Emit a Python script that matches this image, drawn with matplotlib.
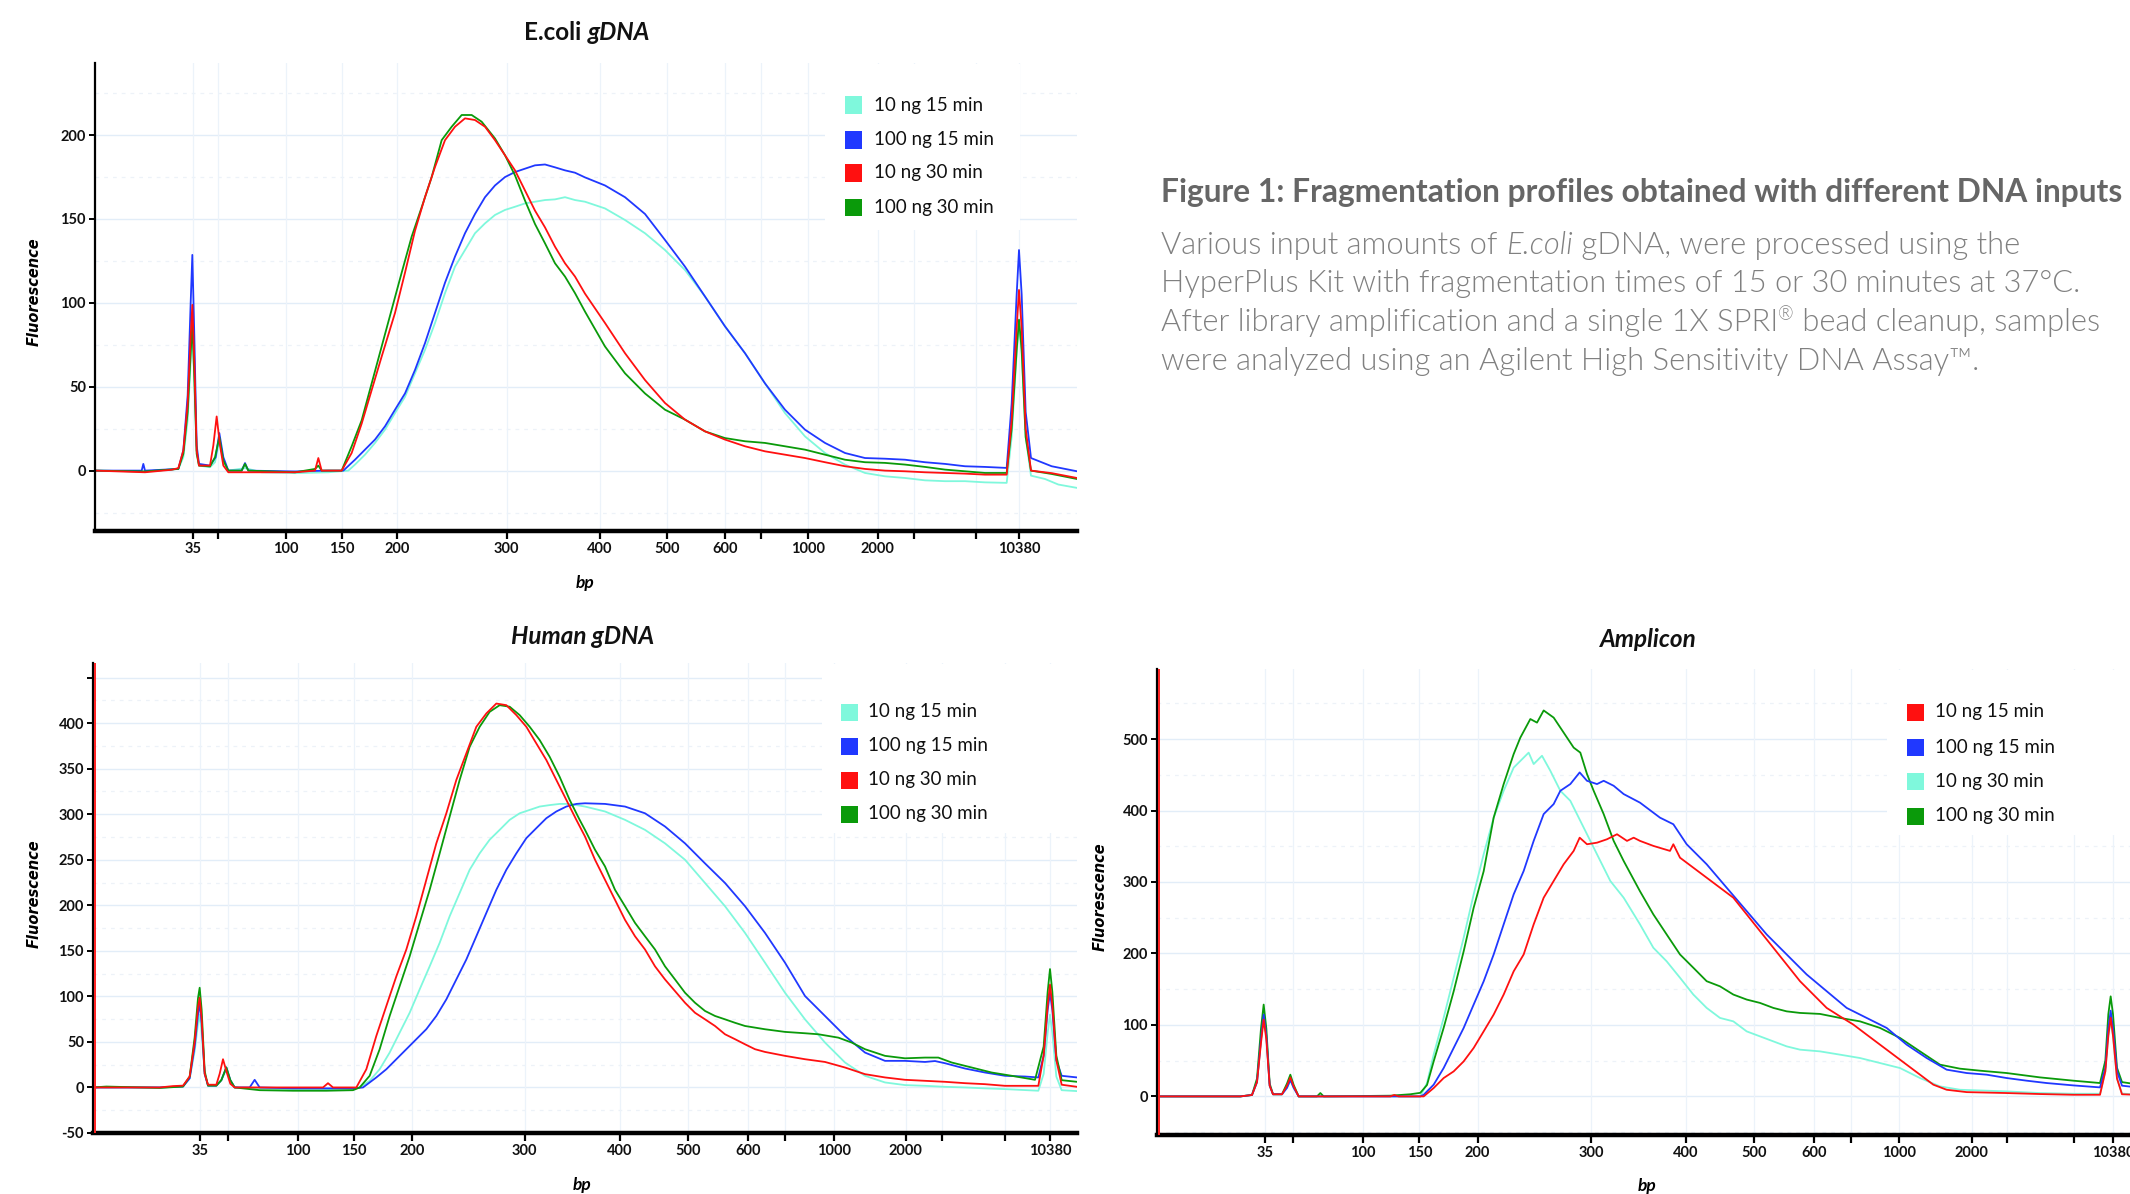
import matplotlib
matplotlib.use("Agg")
import matplotlib.pyplot as plt
from matplotlib.patches import Rectangle
from matplotlib import font_manager as fm

# ------------------------------------------------------------------ data
# x positions are migration positions along each electropherogram axis
X_TICK_LABELS = ["35", "", "100", "150", "200", "300", "400", "500", "600", "",
                 "1000", "2000", "", "", "10380"]
ECOLI_XTICKS = [293, 370, 573, 741, 906, 1235, 1515, 1715, 1890, 1997, 2138, 2348, 2458, 2643, 2772]
HUMAN_XTICKS = [322, 405, 614, 783, 958, 1295, 1581, 1786, 1966, 2076, 2222, 2438, 2546, 2736, 2871]
AMPLICON_XTICKS = [325, 407, 618, 787, 962, 1302, 1586, 1791, 1971, 2081, 2227, 2444, 2549, 2751, 2869]

ECOLI_YTICKS = [0, 50, 100, 150, 200]
ECOLI_YLABELS = ["0", "50", "100", "150", "200"]
HUMAN_YTICKS = [-50, 0, 50, 100, 150, 200, 250, 300, 350, 400, 450]
HUMAN_YLABELS = ["-50", "0", "50", "100", "150", "200", "250", "300", "350", "400", ""]
AMPLICON_YTICKS = [0, 100, 200, 300, 400, 500]
AMPLICON_YLABELS = ["0", "100", "200", "300", "400", "500"]

LABELS_GDNA = ["10 ng 15 min", "100 ng 15 min", "10 ng 30 min", "100 ng 30 min"]
LABELS_AMPLICON = ["10 ng 15 min", "100 ng 15 min", "10 ng 30 min", "100 ng 30 min"]

# ---- E.coli gDNA traces (position, fluorescence)
ecoli_10ng_15 = [(0, 0), (150, -0.5), (250, 1), (265, 8), (278, 30), (287, 65), (292, 85), (298, 55), (305, 12),
    (312, 3), (345, 2), (360, 5), (373, 18), (385, 6), (400, 0), (450, 1.5), (500, -1), (600, -1.5), (700, -1),
    (760, 0), (780, 3.6), (810, 9.5), (840, 16.5), (870, 24.4), (900, 34.3), (930, 44), (960, 58), (990, 72),
    (1020, 88), (1050, 105.8), (1080, 121.6), (1110, 131.5), (1140, 141.5), (1170, 147.4), (1200, 152.4),
    (1230, 155.4), (1260, 157.3), (1290, 159.3), (1320, 160.3), (1350, 161.3), (1380, 161.7), (1410, 163),
    (1440, 161.3), (1470, 160.3), (1530, 156.3), (1590, 149.4), (1650, 141.5), (1710, 131.5), (1770, 119.6),
    (1830, 103.8), (1890, 86), (1950, 70), (2010, 52), (2070, 34.3), (2130, 20.4), (2190, 10.5), (2250, 3.6),
    (2310, -1.4), (2370, -3.4), (2430, -4.4), (2490, -5.8), (2550, -6.3), (2610, -6.3), (2670, -7), (2735, -7.3),
    (2750, 20), (2765, 70), (2772, 88), (2780, 70), (2792, 20), (2808, -3), (2850, -5), (2890, -8.3), (2946, -10.3)]
ecoli_100ng_15 = [(0, 0), (140, 0), (145, 4), (150, 0), (250, 1), (265, 12), (278, 45), (287, 100), (292, 128.6),
    (298, 80), (305, 15), (312, 4), (345, 3), (362, 8), (373, 22.4), (385, 8), (400, 0), (440, 0), (450, 4.5),
    (460, 0), (600, -0.5), (700, 0), (745, 0), (780, 6.5), (810, 12.5), (840, 18.5), (870, 26.4), (900, 36.3),
    (930, 46), (960, 60), (990, 76), (1020, 94), (1050, 112), (1080, 127.6), (1110, 141.5), (1140, 153),
    (1170, 163), (1200, 170), (1230, 175), (1260, 178), (1290, 180), (1320, 182), (1350, 182.5), (1380, 180.8),
    (1410, 179), (1440, 177.6), (1470, 174.8), (1530, 170), (1590, 163), (1650, 153), (1710, 137.5),
    (1770, 121.6), (1830, 103.8), (1890, 86), (1950, 70), (2010, 52), (2070, 36.3), (2130, 24.4), (2190, 16.5),
    (2250, 10.5), (2310, 7.5), (2370, 7.1), (2430, 6.5), (2490, 5), (2550, 4), (2610, 2.6), (2670, 2.2),
    (2735, 1.6), (2750, 40), (2765, 105), (2772, 131.5), (2780, 105), (2792, 35), (2808, 7.5), (2870, 2.6),
    (2946, -0.4)]
ecoli_10ng_30 = [(0, 0), (150, -1), (230, 0.5), (250, 1.5), (265, 12), (278, 40), (287, 80), (292, 98.8),
    (298, 65), (305, 12), (312, 3), (345, 3), (355, 15), (365, 32.3), (375, 15), (385, 3), (400, -1), (500, -1),
    (600, -1), (660, 0), (670, 7.5), (680, 0), (740, 0), (770, 10.5), (800, 28), (830, 48), (860, 68), (900, 94),
    (930, 118), (960, 143), (990, 163), (1020, 181), (1050, 197), (1080, 205), (1110, 210), (1140, 209),
    (1170, 205), (1200, 197), (1230, 188), (1260, 179), (1290, 167), (1320, 155), (1350, 145), (1380, 133.5),
    (1410, 123.6), (1440, 115.7), (1470, 105.5), (1530, 88), (1590, 70), (1650, 54), (1710, 40.3), (1770, 30.4),
    (1830, 23.4), (1890, 18.5), (1950, 14.5), (2010, 11.5), (2070, 9.5), (2130, 7.5), (2190, 5), (2250, 2.6),
    (2310, 1), (2370, 0), (2430, -0.4), (2490, -1), (2550, -1.4), (2610, -1.8), (2670, -2.4), (2735, -2.4),
    (2750, 30), (2765, 85), (2772, 107.7), (2780, 85), (2792, 25), (2808, 0), (2870, -1.5), (2946, -4.4)]
ecoli_100ng_30 = [(0, 0), (150, -0.5), (250, 1), (265, 10), (278, 35), (287, 70), (292, 88), (298, 55), (305, 10),
    (312, 3), (345, 2.5), (360, 8), (373, 20), (385, 6), (400, 0), (440, 0), (450, 4), (460, 0), (600, -1),
    (660, 1), (670, 3), (680, 0), (740, 0), (770, 14.5), (800, 30), (830, 52), (860, 74), (890, 96), (920, 118),
    (950, 139.5), (980, 157), (1010, 175), (1040, 197), (1070, 205), (1100, 212), (1130, 212), (1160, 208),
    (1200, 198), (1230, 188), (1260, 176), (1290, 161), (1320, 147), (1350, 135.5), (1380, 123.6),
    (1410, 115.7), (1440, 105.8), (1470, 94.8), (1530, 74), (1590, 58), (1650, 46), (1710, 36.3), (1770, 30.4),
    (1830, 23.4), (1890, 19.4), (1950, 17.5), (2010, 16.5), (2070, 14.5), (2130, 12.5), (2190, 9.5), (2250, 6.5),
    (2310, 5), (2370, 4.6), (2430, 3.6), (2490, 2.2), (2550, 0.6), (2610, -0.4), (2670, -1.4), (2735, -1.4),
    (2750, 25), (2765, 72), (2772, 90), (2780, 72), (2792, 20), (2808, 0), (2870, -2), (2946, -5)]

# ---- Human gDNA traces
human_10ng_15 = [(0, 0), (200, 0), (270, 1), (290, 10), (305, 40), (315, 70), (320, 80), (326, 60), (335, 15),
    (345, 2), (370, 2), (385, 8), (400, 20), (412, 8), (425, 0), (500, -1), (600, -2.5), (700, -2.5), (780, -2),
    (800, 0), (830, 7.3), (860, 20), (890, 38.3), (920, 60.2), (950, 82), (980, 107.7), (1010, 133),
    (1040, 158.8), (1070, 188), (1100, 213.5), (1130, 239), (1160, 257), (1190, 272), (1220, 282.8),
    (1250, 293.8), (1280, 301), (1310, 304.7), (1340, 308.4), (1370, 310), (1400, 311.3), (1430, 311.3),
    (1476, 308.4), (1536, 303), (1596, 293.8), (1656, 282.8), (1716, 268), (1776, 250), (1836, 224.5),
    (1896, 199), (1956, 169.7), (2016, 137), (2076, 104), (2136, 74.8), (2196, 49.3), (2256, 27.4),
    (2316, 12.8), (2376, 5.5), (2436, 2.6), (2496, 1.8), (2556, 0.7), (2616, 0), (2676, -1), (2736, -1.8),
    (2836, -3.6), (2852, 15), (2864, 60), (2871, 80), (2878, 60), (2890, 12), (2906, -3), (2952, -4)]
human_100ng_15 = [(0, 0), (200, 0), (270, 1), (290, 10), (305, 45), (315, 80), (320, 93), (326, 70), (335, 15),
    (345, 2), (370, 2), (385, 8), (400, 22), (412, 8), (425, 0), (470, 0), (485, 8.4), (500, 0), (600, -1),
    (700, -1), (780, -1), (810, 0), (850, 11), (880, 20), (910, 31), (940, 42), (970, 53), (1000, 64),
    (1030, 78.5), (1060, 96.7), (1090, 118.6), (1120, 140.5), (1150, 166), (1180, 191.6), (1210, 217),
    (1240, 239), (1270, 257), (1300, 273.7), (1330, 284.7), (1360, 295.6), (1390, 303), (1420, 308.4),
    (1450, 311.3), (1476, 312), (1536, 311.3), (1596, 308.4), (1656, 301), (1716, 286.5), (1776, 268),
    (1836, 246), (1896, 224.5), (1956, 199), (2016, 169.7), (2076, 137), (2136, 100.4), (2196, 78.5),
    (2256, 56.6), (2316, 38.3), (2376, 29.2), (2436, 29.2), (2496, 28), (2526, 29), (2556, 26.6), (2616, 20.8),
    (2676, 16.4), (2736, 12.8), (2796, 12), (2836, 11), (2852, 35), (2864, 85), (2871, 104), (2878, 85),
    (2890, 30), (2906, 12.8), (2952, 11)]
human_10ng_30 = [(0, 0), (200, 0), (240, 1.5), (270, 2), (290, 12), (305, 50), (315, 88), (320, 98.5), (326, 75),
    (335, 15), (345, 3), (370, 3), (380, 15), (390, 31), (400, 18), (412, 4), (425, 0), (600, 0), (690, 0),
    (705, 4.7), (720, 0), (790, 0), (820, 20), (850, 56.6), (880, 89.4), (910, 122), (940, 151.5), (970, 188),
    (1000, 228), (1030, 268), (1060, 301), (1090, 337.6), (1120, 366.8), (1150, 396), (1180, 410.6),
    (1210, 421.5), (1240, 419.7), (1270, 408.8), (1300, 396), (1330, 377.7), (1360, 359.5), (1390, 337.6),
    (1420, 315.7), (1450, 293.8), (1476, 275.5), (1506, 250), (1536, 228), (1566, 206), (1596, 184),
    (1626, 166), (1656, 151.5), (1686, 133), (1716, 118.6), (1746, 105.8), (1776, 93), (1806, 82),
    (1836, 74.8), (1866, 67.5), (1896, 58.4), (1926, 53), (1956, 47.4), (1986, 42), (2016, 39), (2076, 34.7),
    (2136, 31), (2196, 28), (2256, 21.9), (2316, 14.6), (2376, 11), (2436, 8.4), (2496, 7.3), (2556, 6.2),
    (2616, 4.7), (2676, 3.6), (2736, 1.8), (2836, 1.8), (2852, 35), (2864, 90), (2871, 113), (2878, 90),
    (2890, 30), (2906, 3), (2952, 0.7)]
human_100ng_30 = [(0, 0), (40, 1), (200, -0.5), (270, 1), (290, 12), (305, 55), (315, 98), (320, 109.5),
    (326, 85), (335, 18), (345, 2), (370, 2), (385, 8), (400, 22), (412, 8), (425, 0), (500, -3), (600, -3.6),
    (700, -3.6), (780, -3), (800, 0), (830, 12.8), (860, 42), (890, 78.5), (920, 111.3), (950, 144),
    (980, 180.7), (1010, 217), (1040, 257), (1070, 297.4), (1100, 337.6), (1130, 374), (1160, 396),
    (1190, 412.4), (1220, 419.7), (1250, 418), (1280, 408.8), (1310, 396), (1340, 381.4), (1370, 363),
    (1400, 341), (1430, 315.7), (1460, 293.8), (1476, 282.8), (1506, 261), (1536, 242.7), (1566, 217),
    (1596, 199), (1626, 180.7), (1656, 166), (1686, 151.5), (1716, 133), (1746, 118.6), (1776, 104),
    (1806, 93), (1836, 84), (1866, 78.5), (1896, 74.8), (1926, 71), (1956, 67.5), (2016, 63.9), (2076, 61),
    (2136, 59.5), (2176, 58.4), (2236, 54.7), (2276, 49.3), (2316, 42), (2376, 34.7), (2436, 32),
    (2496, 32.8), (2536, 32.8), (2576, 27.4), (2636, 21.9), (2696, 16.4), (2756, 12.8), (2826, 8.4),
    (2852, 45), (2864, 105), (2871, 130), (2878, 105), (2890, 35), (2906, 8), (2952, 6.2)]

# ---- Amplicon traces
amp_10ng_15 = [(0, 0), (250, 0), (285, 2), (300, 20), (312, 75), (320, 107.5), (328, 80), (338, 15), (348, 3),
    (375, 3), (390, 15), (400, 26.6), (410, 14), (425, 0), (700, 0), (712, 2), (725, 0), (800, 0), (830, 11.7),
    (860, 25.7), (890, 35), (920, 49), (950, 67.8), (980, 91), (1010, 114.5), (1040, 142.5), (1070, 175),
    (1100, 198.6), (1130, 240.7), (1160, 278), (1190, 301.4), (1220, 324.8), (1250, 343.5), (1268, 362),
    (1290, 352.8), (1320, 355), (1350, 359.8), (1380, 366.8), (1410, 357.5), (1430, 362), (1449, 357.5),
    (1489, 350.5), (1539, 343.5), (1549, 352.8), (1569, 334), (1609, 320), (1649, 306), (1689, 292),
    (1729, 278), (1769, 254.7), (1809, 231.3), (1849, 208), (1889, 184.6), (1929, 161.2), (1969, 142.5),
    (2009, 123.8), (2049, 112), (2089, 100.5), (2129, 86.4), (2169, 72.4), (2209, 58.4), (2249, 44.4),
    (2289, 30.4), (2329, 16.4), (2369, 9.3), (2429, 6), (2549, 4.7), (2649, 3.3), (2749, 2.3), (2829, 2.3),
    (2845, 35), (2854, 85), (2861, 110), (2868, 85), (2880, 25), (2895, 3), (2952, 2)]
amp_100ng_15 = [(0, 0), (250, 0), (285, 2), (300, 20), (312, 80), (320, 114.5), (328, 85), (338, 15), (348, 3),
    (375, 3), (390, 12), (400, 23), (410, 12), (425, 0), (790, 0), (800, 2.3), (830, 16.4), (860, 39.7),
    (890, 67.8), (920, 95.8), (950, 128.5), (980, 161), (1010, 198.6), (1040, 240.7), (1070, 282.7),
    (1100, 315.4), (1130, 357.5), (1160, 395), (1190, 409), (1210, 427.6), (1240, 437), (1268, 453.3),
    (1290, 441.6), (1320, 437), (1340, 441.6), (1370, 434.6), (1400, 423), (1449, 411), (1509, 390),
    (1549, 380.8), (1589, 352.8), (1649, 324.8), (1709, 292), (1769, 259.3), (1829, 226.6), (1889, 198.6),
    (1949, 170.6), (2009, 147.2), (2069, 123.8), (2129, 109.8), (2189, 95.8), (2249, 72.4), (2309, 53.7),
    (2369, 37.4), (2429, 32.7), (2489, 30.4), (2549, 25.7), (2609, 22), (2669, 18.7), (2749, 15.4),
    (2829, 12.6), (2845, 40), (2854, 95), (2861, 120), (2868, 95), (2880, 35), (2895, 15), (2952, 12)]
amp_10ng_30 = [(0, 0), (250, 0), (285, 2), (300, 20), (312, 80), (320, 110), (328, 85), (338, 15), (348, 3),
    (375, 3), (390, 12), (400, 23), (410, 12), (425, 0), (790, 0), (810, 18.7), (830, 58.4), (860, 110),
    (890, 166), (920, 222), (950, 282.7), (980, 338.8), (1010, 390), (1040, 427.6), (1070, 460), (1100, 474),
    (1115, 481), (1130, 465), (1155, 476.6), (1180, 455.6), (1210, 427.6), (1240, 413.6), (1270, 385.5),
    (1300, 357.5), (1330, 329.4), (1360, 301.4), (1400, 278), (1449, 240.7), (1489, 208), (1529, 189),
    (1569, 166), (1609, 142.5), (1649, 123.8), (1689, 109.8), (1729, 105), (1769, 91), (1809, 84), (1849, 77),
    (1889, 70), (1929, 65.4), (1989, 63), (2049, 58.4), (2109, 53.7), (2169, 46.7), (2229, 39.7),
    (2289, 25.7), (2349, 14), (2409, 9.3), (2549, 7), (2649, 4.7), (2749, 3.7), (2829, 3.7), (2845, 35),
    (2854, 85), (2861, 105), (2868, 85), (2880, 25), (2895, 4), (2952, 2.3)]
amp_100ng_30 = [(0, 0), (250, 0), (285, 2), (300, 25), (312, 95), (320, 128.5), (328, 95), (338, 18), (348, 3),
    (375, 3), (390, 18), (400, 30.4), (410, 16), (425, 0), (480, 0), (490, 4.7), (500, 0), (700, 1), (760, 3),
    (790, 5), (810, 16), (830, 49), (860, 96), (890, 147), (920, 203), (950, 264), (980, 315), (1010, 390),
    (1040, 437), (1070, 479), (1090, 502), (1120, 528), (1140, 523), (1160, 540), (1190, 530), (1220, 509),
    (1250, 488), (1270, 481), (1290, 451), (1310, 427.6), (1340, 395), (1370, 357.5), (1400, 329.4),
    (1449, 287), (1489, 254.7), (1529, 226.6), (1569, 198.6), (1609, 180), (1649, 161.2), (1689, 154),
    (1729, 142.5), (1769, 135.5), (1809, 130.8), (1849, 123.8), (1889, 119), (1929, 116.8), (1989, 115.4),
    (2049, 109.8), (2109, 105), (2169, 95.8), (2229, 81.8), (2289, 63), (2349, 44.4), (2409, 38.8),
    (2469, 36), (2549, 32.7), (2649, 26.6), (2749, 22), (2829, 18.7), (2845, 50), (2854, 115), (2861, 140),
    (2868, 115), (2880, 40), (2895, 20), (2952, 16)]

# ------------------------------------------------------------------ style
CYAN, BLUE, RED, GREEN = "#7ff8dc", "#2038ff", "#ff1010", "#0a9a0a"
W, H = 2130, 1194
plt.rcParams["font.family"] = ["Lato", "DejaVu Sans"]


def find_font(stem):
    for f in fm.fontManager.ttflist:
        name = f.fname.replace("\\", "/").split("/")[-1]
        if name.rsplit(".", 1)[0].lower() == stem.lower():
            return f.fname
    return None


LIGHT_FILE = find_font("Lato-Light")
LIGHT_ITALIC_FILE = find_font("Lato-LightItalic")

fig = plt.figure(figsize=(W / 100, H / 100), dpi=100)
fig.patch.set_facecolor("white")
renderer = fig.canvas.get_renderer()


def fpos(px, py):
    return px / W, 1 - py / H


def make_axes(l, t, r, b):
    return fig.add_axes([l / W, 1 - b / H, (r - l) / W, (b - t) / H])


def style_axes(ax, xlim, ylim, xticks, yticks, ylabels, red_edge=False):
    ax.set_xlim(*xlim)
    ax.set_ylim(*ylim)
    ax.set_facecolor("white")
    for s in ("top", "right"):
        ax.spines[s].set_visible(False)
    ax.spines["left"].set_linewidth(1.6)
    ax.spines["bottom"].set_linewidth(3.2)
    ax.set_xticks(xticks)
    ax.set_xticklabels(X_TICK_LABELS)
    ax.set_yticks(yticks)
    ax.set_yticklabels(ylabels)
    ax.tick_params(axis="x", length=6, width=1.6, pad=2, labelsize=10.5)
    ax.tick_params(axis="y", length=4.5, width=1.4, pad=2, labelsize=10.5)
    for lab in ax.get_xticklabels() + ax.get_yticklabels():
        lab.set_fontweight("bold")
        lab.set_color("#111111")
    step = yticks[1] - yticks[0]
    y = ylim[0] - (ylim[0] % step)
    while y <= ylim[1]:
        ax.axhline(y, color="#e2edf8", lw=1.0, zorder=0.4)
        ax.axhline(y + step / 2, color="#edf2f8", lw=0.9, ls=(0, (3, 4)), zorder=0.4)
        y += step
    for v in xticks:
        ax.axvline(v, color="#ecf3fa", lw=0.9, zorder=0.4)
    if red_edge:
        ax.axvline(xlim[0] + 6, color="#ff2020", lw=1.4, zorder=3)


def draw_legend(ax, box, sq_left, rows, text_x, colors, labels):
    # white legend panel (figure px l, t, r, b) hiding the grid
    l, t, r, b = box
    x0, y0 = fpos(l, b)
    rect = Rectangle((x0, y0), (r - l) / W, (b - t) / H, transform=fig.transFigure,
                     facecolor="white", edgecolor="none")
    ax.add_artist(rect)
    rect.set_zorder(1.2)
    for yc, c, lab in zip(rows, colors, labels):
        sx, sy = fpos(sq_left, yc + 8.5)
        fig.patches.append(Rectangle((sx, sy), 17 / W, 17 / H, transform=fig.transFigure,
                                     facecolor=c, edgecolor="none"))
        tx, ty = fpos(text_x, yc)
        fig.text(tx, ty, lab, fontsize=13.5, color="#111111", va="center", ha="left")


def text_run(x_px, y_px, pieces, color, ha="left"):
    objs, widths = [], []
    for s, size, style, weight, dy in pieces:
        kw = dict(fontsize=size, fontstyle=style, fontweight=weight)
        if weight == "light":
            path = LIGHT_ITALIC_FILE if style == "italic" else LIGHT_FILE
            if path:
                kw = dict(fontproperties=fm.FontProperties(fname=path, size=size))
        t = fig.text(0, 0, s, color=color, va="baseline", ha="left", **kw)
        widths.append(t.get_window_extent(renderer).width)
        objs.append((t, dy))
    total = sum(widths)
    x = x_px - total / 2 if ha == "center" else x_px
    for (t, dy), w in zip(objs, widths):
        t.set_position(fpos(x, y_px - dy))
        x += w


def plot_traces(ax, traces):
    for pts, color in traces:
        xs = [p[0] for p in pts]
        ys = [p[1] for p in pts]
        ax.plot(xs, ys, color=color, lw=1.3, zorder=2, solid_joinstyle="round")


def axis_labels(ylab_xy, bp_xy):
    fig.text(*fpos(*ylab_xy), "Fluorescence", rotation=90, ha="center", va="center",
             fontsize=10.5, fontweight="bold", fontstyle="italic", family="DejaVu Sans")
    fig.text(*fpos(*bp_xy), "bp", ha="center", va="center", fontsize=12.5,
             fontweight="bold", fontstyle="italic")


# ------------------------------------------------------------------ E.coli
ax1 = make_axes(95, 63, 1077, 531)
style_axes(ax1, (0, 2946), (-36, 243), ECOLI_XTICKS, ECOLI_YTICKS, ECOLI_YLABELS)
plot_traces(ax1, [(ecoli_10ng_15, CYAN), (ecoli_100ng_15, BLUE), (ecoli_100ng_30, GREEN), (ecoli_10ng_30, RED)])
draw_legend(ax1, (825, 64, 1020, 230), 845, [105, 140, 173, 207], 874,
            [CYAN, BLUE, RED, GREEN], LABELS_GDNA)
axis_labels((34, 292), (585, 583))
text_run(587, 40, [("E.coli ", 17.5, "normal", "bold", 0), ("gDNA", 17.5, "italic", "bold", 0)],
         "#111111", ha="center")

# ------------------------------------------------------------------ Human
ax2 = make_axes(93, 663, 1077, 1133)
style_axes(ax2, (0, 2952), (-50, 466), HUMAN_XTICKS, HUMAN_YTICKS, HUMAN_YLABELS, red_edge=True)
plot_traces(ax2, [(human_10ng_15, CYAN), (human_100ng_15, BLUE), (human_100ng_30, GREEN), (human_10ng_30, RED)])
draw_legend(ax2, (822, 664, 1077, 833), 841, [712, 746, 780, 814], 868,
            [CYAN, BLUE, RED, GREEN], LABELS_GDNA)
axis_labels((34, 894), (582, 1185))
text_run(583, 644, [("Human gDNA", 17.5, "italic", "bold", 0)], "#111111", ha="center")

# ------------------------------------------------------------------ Amplicon
ax3 = make_axes(1157, 669, 2141, 1135)
style_axes(ax3, (0, 2952), (-54, 598), AMPLICON_XTICKS, AMPLICON_YTICKS, AMPLICON_YLABELS, red_edge=True)
plot_traces(ax3, [(amp_10ng_30, CYAN), (amp_100ng_30, GREEN), (amp_100ng_15, BLUE), (amp_10ng_15, RED)])
draw_legend(ax3, (1887, 670, 2141, 835), 1907, [712, 747, 781, 816], 1935,
            [RED, BLUE, CYAN, GREEN], LABELS_AMPLICON)
axis_labels((1100, 897), (1647, 1186))
text_run(1648, 647, [("Amplicon", 17.5, "italic", "bold", 0)], "#111111", ha="center")

# ------------------------------------------------------------------ caption
HEAD_COLOR, BODY_COLOR = "#666666", "#808080"
text_run(1161, 202, [("Figure 1: Fragmentation profiles obtained with different DNA inputs", 22.85, "normal", "bold", 0)],
         HEAD_COLOR)
BS = 22.25
text_run(1161, 254, [("Various input amounts of ", BS, "normal", "light", 0), ("E.coli", BS, "italic", "light", 0),
                     (" gDNA, were processed using the", BS, "normal", "light", 0)], BODY_COLOR)
text_run(1161, 292.5, [("HyperPlus Kit with fragmentation times of 15 or 30 minutes at 37\u00b0C.", BS, "normal", "light", 0)],
         BODY_COLOR)
text_run(1161, 331, [("After library amplification and a single 1X SPRI", BS, "normal", "light", 0),
                     ("\u00ae", BS * 0.6, "normal", "light", 11),
                     (" bead cleanup, samples", BS, "normal", "light", 0)], BODY_COLOR)
text_run(1161, 369.5, [("were analyzed using an Agilent High Sensitivity DNA Assay\u2122.", BS, "normal", "light", 0)],
         BODY_COLOR)

fig.savefig("out.png", dpi=100, facecolor="white")
